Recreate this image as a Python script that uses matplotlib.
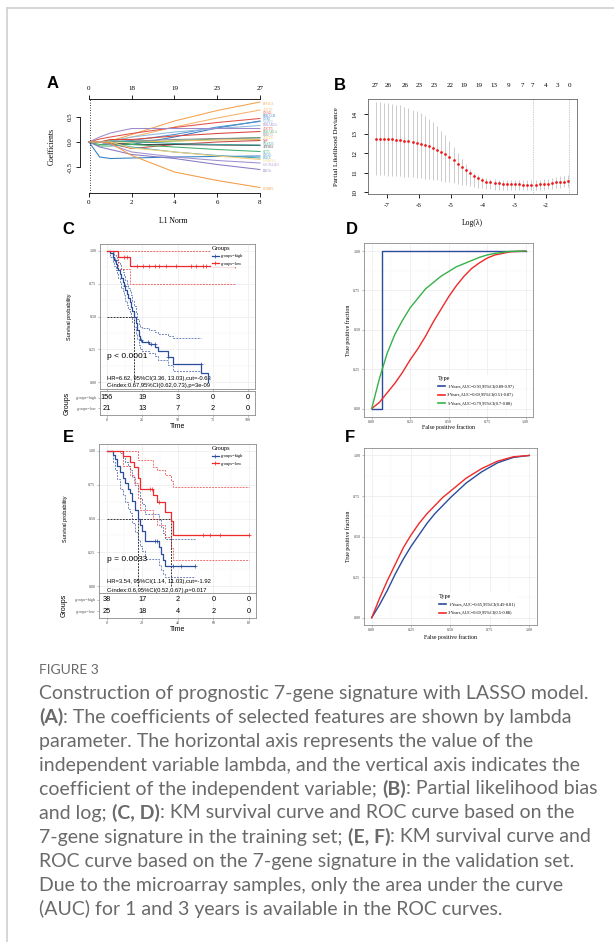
import matplotlib
matplotlib.use("Agg")
import matplotlib.pyplot as plt
from matplotlib.lines import Line2D
import numpy as np

W, H = 614, 942
SERIF = "Liberation Serif"
SANS = "Liberation Sans"
CAP = "Lato"

# ---------------- data ----------------
# A: lasso coefficient paths (values at each L1 norm knot)
A_l1 = [0, 0.5, 1, 2, 4, 6, 8]
A_genes = ["PPP1CA", "ADCY1", "GNAI1", "PRKACB", "GNB1", "VAMP2", "PRKAR2A", "ADCY5",
           "PRKAR1A", "PRKCG", "ADCY8", "NSF", "ATP2B2", "SNAP25", "SYT5", "GNG3",
           "PRKX", "CAMK2A", "CACNA2D1", "EXOA", "STXBP1"]
A_coef = [
    [0, 0, 0.02, 0.15, 0.42, 0.63, 0.80],
    [0, 0, 0, 0.10, 0.30, 0.48, 0.64],
    [0, 0.06, 0.10, 0.17, 0.29, 0.39, 0.47],
    [0, 0, -0.05, -0.05, 0.10, 0.28, 0.42],
    [0, 0, 0, 0.03, 0.15, 0.30, 0.41],
    [0, 0, 0.02, 0.10, 0.20, 0.27, 0.33],
    [0, 0.10, 0.18, 0.27, 0.27, 0.27, 0.27],
    [0, 0, 0.05, 0.05, 0.12, 0.17, 0.21],
    [0, -0.05, -0.05, -0.02, 0.02, 0.06, 0.09],
    [0, 0, 0, 0.02, 0.05, 0.07, 0.08],
    [0, 0, 0, 0, 0.02, 0.04, 0.05],
    [0, 0, -0.03, -0.13, -0.05, 0.00, 0.03],
    [0, 0, -0.02, -0.05, -0.05, -0.06, -0.07],
    [0, 0, 0.02, 0.01, -0.03, -0.05, -0.06],
    [0, -0.08, -0.08, -0.05, -0.10, -0.15, -0.19],
    [0, -0.30, -0.33, -0.32, -0.30, -0.29, -0.28],
    [0, 0, -0.05, -0.10, -0.20, -0.27, -0.32],
    [0, 0, 0, -0.12, -0.20, -0.28, -0.35],
    [0, 0, -0.05, -0.20, -0.30, -0.37, -0.42],
    [0, -0.10, -0.15, -0.25, -0.33, -0.45, -0.55],
    [0, 0, -0.02, -0.27, -0.60, -0.77, -0.91],
]
A_colors = ["#F5A04A", "#F7B267", "#E0524A", "#3A78C3", "#4F93D1", "#8FB9DE", "#9C89CC",
            "#D9443C", "#4DAA6A", "#8D8D8D", "#E8C25A", "#C84A4A", "#4A4A4A", "#3C9D96",
            "#3FAF6B", "#2F7FC1", "#48A6B8", "#F2CF7A", "#A18FD0", "#8A78C4", "#F29B45"]
A_ticks = [0, 2, 4, 6, 8]
A_top = ["0", "18", "19", "23", "27"]

# B: cross-validated partial likelihood deviance
B_loglam = np.linspace(-7.35, -1.30, 48)
B_mean = [12.74, 12.73, 12.72, 12.71, 12.70, 12.68, 12.66, 12.63, 12.60, 12.56, 12.52, 12.47,
          12.41, 12.34, 12.26, 12.17, 12.06, 11.93, 11.79, 11.63, 11.46, 11.29, 11.12, 10.96,
          10.82, 10.70, 10.61, 10.54, 10.49, 10.46, 10.44, 10.42, 10.41, 10.40, 10.39, 10.39,
          10.38, 10.38, 10.38, 10.38, 10.39, 10.41, 10.43, 10.46, 10.49, 10.52, 10.54, 10.56]
B_upper = [14.62, 14.60, 14.58, 14.55, 14.52, 14.48, 14.44, 14.38, 14.31, 14.23, 14.14, 14.03,
           13.90, 13.75, 13.58, 13.38, 13.15, 12.90, 12.62, 12.32, 12.01, 11.70, 11.42, 11.18,
           10.99, 10.86, 10.77, 10.71, 10.67, 10.65, 10.63, 10.62, 10.61, 10.60, 10.60, 10.60,
           10.60, 10.60, 10.60, 10.61, 10.63, 10.66, 10.69, 10.73, 10.77, 10.80, 10.83, 10.86]
B_lower = [10.87, 10.86, 10.85, 10.84, 10.83, 10.82, 10.80, 10.79, 10.77, 10.75, 10.73, 10.71,
           10.69, 10.66, 10.63, 10.60, 10.57, 10.53, 10.50, 10.46, 10.42, 10.38, 10.34, 10.30,
           10.26, 10.23, 10.20, 10.17, 10.15, 10.13, 10.12, 10.11, 10.10, 10.10, 10.10, 10.09,
           10.09, 10.09, 10.09, 10.10, 10.11, 10.13, 10.15, 10.17, 10.20, 10.23, 10.26, 10.28]
B_nz_pos = [-7.37, -6.96, -6.43, -5.99, -5.52, -5.02, -4.58, -4.11, -3.64, -3.17, -2.76,
            -2.42, -2.00, -1.66, -1.28]
B_nz_lab = ["27", "26", "26", "23", "23", "22", "19", "19", "13", "9", "7", "7", "4", "3", "0"]
B_lam_lines = [-2.41, -1.28]

# C: KM training set
C_high_t = [0, 2, 4, 5, 6, 7, 8, 9, 10, 11, 12, 13, 14, 15, 16, 17, 18, 19.4, 20.5, 21.5,
            22.5, 23.5, 25, 30, 34, 36, 43, 47, 67, 71.5]
C_high_s = [1.0, 0.98, 0.95, 0.93, 0.90, 0.87, 0.85, 0.82, 0.79, 0.76, 0.73, 0.70, 0.67, 0.64,
            0.61, 0.57, 0.54, 0.50, 0.45, 0.40, 0.35, 0.32, 0.31, 0.29, 0.27, 0.24, 0.19, 0.14,
            0.07, 0.0]
C_high_up = [1.0, 1.0, 0.99, 0.97, 0.95, 0.93, 0.91, 0.89, 0.86, 0.84, 0.81, 0.78, 0.75, 0.72,
             0.69, 0.66, 0.62, 0.58, 0.53, 0.48, 0.44, 0.42, 0.41, 0.40, 0.38, 0.37, 0.35, 0.34,
             0.34]
C_high_lo = [1.0, 0.95, 0.91, 0.88, 0.85, 0.82, 0.79, 0.76, 0.72, 0.69, 0.66, 0.62, 0.59, 0.56,
             0.53, 0.49, 0.46, 0.42, 0.37, 0.33, 0.28, 0.25, 0.24, 0.22, 0.20, 0.17, 0.13, 0.09,
             0.09]
C_high_cens = [5.5, 12.5, 24.2, 28.9, 31.3, 33.7, 43.2, 66.9]
C_low_t = [0, 8, 16, 90.5]
C_low_s = [1.0, 0.95, 0.88, 0.88]
C_low_up = [1.0, 1.0, 1.0, 1.0]
C_low_lo = [1.0, 0.86, 0.75, 0.75]
C_low_cens = [12.3, 14.0, 21.0, 25.4, 30.1, 33.7, 37.2, 42.0, 49.1, 59.7, 63.3, 68.0, 70.4, 90.5]
C_medians = [19.4]
C_risk_t = [0, 25, 50, 75, 100]
C_risk_high = [156, 19, 3, 0, 0]
C_risk_low = [21, 13, 7, 2, 0]

# E: KM validation set
E_high_t = [0, 3.5, 4.5, 6, 7.5, 9, 10.3, 12, 13, 14.5, 15.8, 17.4, 18.5, 19.6, 21.5, 29.5,
            30.5, 31.5, 32.5, 49.6]
E_high_s = [1.0, 0.97, 0.94, 0.89, 0.84, 0.80, 0.76, 0.72, 0.69, 0.63, 0.56, 0.50, 0.45, 0.41,
            0.335, 0.29, 0.24, 0.19, 0.15, 0.15]
E_high_up = [1.0, 1.0, 1.0, 1.0, 0.98, 0.95, 0.92, 0.89, 0.86, 0.81, 0.75, 0.70, 0.65, 0.61,
             0.53, 0.49, 0.44, 0.39, 0.35, 0.35]
E_high_lo = [1.0, 0.92, 0.86, 0.79, 0.72, 0.67, 0.62, 0.57, 0.54, 0.47, 0.40, 0.34, 0.30, 0.26,
             0.20, 0.16, 0.12, 0.09, 0.065, 0.065]
E_high_cens = [27.1, 28.4, 37.5, 42.0, 49.6]
E_low_t = [0, 9.3, 13, 15.5, 17.4, 18.5, 26.2, 28.5, 32.8, 36.2, 37.5, 80]
E_low_s = [1.0, 0.96, 0.92, 0.88, 0.80, 0.72, 0.67, 0.62, 0.55, 0.48, 0.38, 0.38]
E_low_up = [1.0, 1.0, 1.0, 1.0, 0.93, 0.93, 0.88, 0.86, 0.82, 0.78, 0.73, 0.73]
E_low_lo = [1.0, 0.89, 0.82, 0.76, 0.65, 0.56, 0.50, 0.45, 0.36, 0.28, 0.19, 0.19]
E_low_cens = [24.3, 25.3, 29.5, 54.4, 58.1, 63.7, 80]
E_medians = [17.4, 36.2]
E_risk_t = [0, 20, 40, 60, 80]
E_risk_high = [38, 17, 2, 0, 0]
E_risk_low = [25, 18, 4, 2, 0]

# D / F: time-dependent ROC
D_fpr_1y = [0, 0.069, 0.069, 1.0]
D_tpr_1y = [0, 0, 1.0, 1.0]
D_fpr = [0, 0.05, 0.1, 0.15, 0.2, 0.25, 0.3, 0.35, 0.4, 0.45, 0.5, 0.55, 0.6, 0.65, 0.7,
         0.75, 0.8, 0.9, 1.0]
D_tpr_3y = [0, 0.04, 0.10, 0.16, 0.23, 0.31, 0.38, 0.46, 0.55, 0.63, 0.71, 0.78, 0.84, 0.89,
            0.925, 0.955, 0.975, 0.995, 1.0]
D_tpr_5y = [0, 0.19, 0.35, 0.47, 0.56, 0.64, 0.70, 0.76, 0.80, 0.84, 0.87, 0.90, 0.92, 0.94,
            0.96, 0.975, 0.985, 0.998, 1.0]
D_labels = ["1-Years,AUC=0.93,95%CI(0.89-0.97)", "3-Years,AUC=0.69,95%CI(0.51-0.87)",
            "5-Years,AUC=0.79,95%CI(0.7-0.88)"]
F_fpr = [0, 0.05, 0.1, 0.15, 0.2, 0.25, 0.3, 0.35, 0.4, 0.45, 0.5, 0.6, 0.7, 0.8, 0.9, 1.0]
F_tpr_1y = [0, 0.08, 0.17, 0.27, 0.36, 0.44, 0.51, 0.58, 0.64, 0.69, 0.74, 0.83, 0.90, 0.955,
            0.988, 1.0]
F_tpr_3y = [0, 0.12, 0.23, 0.33, 0.43, 0.51, 0.58, 0.64, 0.69, 0.74, 0.78, 0.86, 0.92, 0.965,
            0.992, 1.0]
F_labels = ["1-Years,AUC=0.65,95%CI(0.49-0.81)", "3-Years,AUC=0.69,95%CI(0.5-0.88)"]

BLUE = "#2B4C9B"
RED = "#EE2A2A"
GREEN = "#36B14A"
GRIDC = "#EBEBEB"
BORDER = "#8A8A8A"

fig = plt.figure(figsize=(W / 100, H / 100), dpi=100)
fig.patch.set_facecolor("white")


def px_axes(x0, y0, x1, y1):
    return fig.add_axes([x0 / W, 1 - y1 / H, (x1 - x0) / W, (y1 - y0) / H])


def letter(x, y, s):
    fig.text(x / W, 1 - y / H, s, fontsize=12, weight="bold", family=SANS,
             ha="center", va="center")


# page frame
fig.add_artist(Line2D([7 / W, 7 / W], [0, 1 - 8 / H], transform=fig.transFigure,
                      color="#d0d0d0", lw=1.2))
fig.add_artist(Line2D([7 / W, 1], [1 - 8 / H, 1 - 8 / H], transform=fig.transFigure,
                      color="#d0d0d0", lw=1.2))

# ---------------- A ----------------
letter(53, 83, "A")
axA = px_axes(80, 99, 267, 193)
ends = np.array([c[-1] for c in A_coef])
order = np.argsort(ends)
lab_y = ends.copy()
gap = 0.062
for k in range(1, len(order)):
    lab_y[order[k]] = max(lab_y[order[k]], lab_y[order[k - 1]] + gap)
lab_y -= (lab_y - ends).mean() * 0.6
for k in range(1, len(order)):
    lab_y[order[k]] = max(lab_y[order[k]], lab_y[order[k - 1]] + gap)
for coefs, col, name, ly in zip(A_coef, A_colors, A_genes, lab_y):
    axA.plot(A_l1, coefs, color=col, lw=0.75)
    axA.text(8.15, ly, name, color=col, fontsize=2.3, family=SERIF,
             va="center", ha="left", clip_on=False)
axA.axvline(0.05, color="black", ls=(0, (1, 2)), lw=0.6)
axA.set_xlim(-0.42, 8.33)
axA.set_ylim(-1.02, 0.86)
axA.patch.set_alpha(0)
for s in ["right", "top"]:
    axA.spines[s].set_visible(False)
axA.spines["left"].set_bounds(-0.5, 0.5)
axA.spines["bottom"].set_bounds(0, 8)
for s in ["left", "bottom"]:
    axA.spines[s].set_linewidth(0.6)
axA.set_xticks(A_ticks, [str(v) for v in A_ticks], fontsize=5, family=SERIF)
axA.set_yticks([-0.5, 0, 0.5], ["-0.5", "0.0", "0.5"], fontsize=5, family=SERIF,
               rotation=90, va="center")
axA.tick_params(length=2.8, width=0.6, pad=2.5)
axA.set_xlabel("L1 Norm", fontsize=5.5, family=SERIF, va="center")
axA.xaxis.set_label_coords(0.5, -(221 - 193) / 94)
axA.set_ylabel("Coefficients", fontsize=5.5, family=SERIF, va="center")
axA.yaxis.set_label_coords((52 - 80) / 187, 0.5)
axAt = axA.twiny()
axAt.set_xlim(axA.get_xlim())
for s in ["left", "right", "bottom"]:
    axAt.spines[s].set_visible(False)
axAt.spines["top"].set_bounds(0, 8)
axAt.spines["top"].set_linewidth(0.6)
axAt.set_xticks(A_ticks, A_top, fontsize=5, family=SERIF)
axAt.tick_params(length=2.8, width=0.6, pad=3)

# ---------------- B ----------------
letter(340, 85, "B")
axB = px_axes(368, 99, 577, 194)
mean = np.array(B_mean)
axB.errorbar(B_loglam, mean, yerr=[mean - np.array(B_lower), np.array(B_upper) - mean],
             fmt="o", color="#EE1C1C", ms=2.0, mew=0, ecolor="#B0B0B0", elinewidth=0.45,
             capsize=1.0, capthick=0.45, zorder=3)
for v in B_lam_lines:
    axB.axvline(v, color="#9A9A9A", ls=(0, (1, 1.5)), lw=0.5)
axB.set_xlim(-7.59, -1.03)
axB.set_ylim(9.9, 14.77)
for s in axB.spines.values():
    s.set_color("#666666")
    s.set_linewidth(0.6)
axB.set_xticks([-7, -6, -5, -4, -3, -2], ["-7", "-6", "-5", "-4", "-3", "-2"], fontsize=5,
               family=SERIF)
axB.set_yticks([10, 11, 12, 13, 14], ["10", "11", "12", "13", "14"], fontsize=5,
               family=SERIF, rotation=90, va="center")
axB.tick_params(axis="x", length=2.8, width=0.6, pad=4)
axB.tick_params(axis="y", length=2.8, width=0.6, pad=5)
axB.set_xlabel("Log(λ)", fontsize=5.5, family=SERIF, va="center")
axB.xaxis.set_label_coords(0.5, -(223 - 194) / 95)
axB.set_ylabel("Partial Likelihood Deviance", fontsize=5, family=SERIF, va="center")
axB.yaxis.set_label_coords((337 - 368) / 209, 0.5)
axBt = axB.twiny()
axBt.set_xlim(axB.get_xlim())
axBt.set_xticks(B_nz_pos, B_nz_lab, fontsize=5, family=SERIF)
axBt.tick_params(length=0, pad=8)
for s in axBt.spines.values():
    s.set_visible(False)


# ---------------- KM panels ----------------
def gg_style(ax, xlim, ylim, xt, yt, xlab=True, ylab=True, grid_minor=True):
    ax.set_xlim(xlim)
    ax.set_ylim(ylim)
    ax.set_axisbelow(True)
    ax.set_xticks(xt, [str(v) for v in xt] if xlab else [""] * len(xt), fontsize=3,
                  family=SERIF, color="#444444")
    if yt is not None:
        ax.set_yticks(yt, ["%.2f" % v for v in yt] if ylab else [""] * len(yt), fontsize=3,
                      family=SERIF, color="#444444")
    if grid_minor:
        ax.set_xticks([(a + b) / 2 for a, b in zip(xt[:-1], xt[1:])], minor=True)
        if yt is not None:
            ax.set_yticks([(a + b) / 2 for a, b in zip(yt[:-1], yt[1:])], minor=True)
        ax.grid(which="minor", color="#F4F4F4", lw=0.35)
    ax.grid(which="major", color=GRIDC, lw=0.5)
    ax.tick_params(which="major", length=1.5, width=0.4, color=BORDER, pad=1)
    ax.tick_params(which="minor", length=0)
    for s in ax.spines.values():
        s.set_color(BORDER)
        s.set_linewidth(0.6)


def step_at(t, s, q):
    idx = np.searchsorted(np.array(t), np.array(q), side="right") - 1
    return np.array(s)[idx]


def km_panel(box, tbox, xlim, xt, groups, medians, ptxt, hrtxt, citxt, txt_y, risk_t,
             risk, ylab_x, time_y):
    x0, y0, x1, y1 = box
    ax = px_axes(*box)
    gg_style(ax, xlim, (-0.05, 1.05), xt, [0, 0.25, 0.5, 0.75, 1.0], xlab=False)
    for t, s, up, lo, cens, col in groups:
        ax.step(t, s, where="post", color=col, lw=0.9, zorder=4)
        ax.step(t[:len(up)], up, where="post", color=col, lw=0.55, ls=(0, (2.5, 1.5)),
                alpha=0.85, zorder=3)
        ax.step(t[:len(lo)], lo, where="post", color=col, lw=0.55, ls=(0, (2.5, 1.5)),
                alpha=0.85, zorder=3)
        ax.plot(cens, step_at(t, s, cens), ls="none", marker="+", ms=2.4, mew=0.5,
                color=col, zorder=5)
    ax.plot([0, max(medians)], [0.5, 0.5], color="black", ls=(0, (2.5, 1.5)), lw=0.55)
    for m in medians:
        ax.plot([m, m], [0, 0.5], color="black", ls=(0, (2.5, 1.5)), lw=0.55)
    ax.text(0, txt_y[0], ptxt, fontsize=6, family=SANS, va="center")
    ax.text(0, txt_y[1], hrtxt, fontsize=4.2, family=SANS, va="center")
    ax.text(0, txt_y[2], citxt, fontsize=4.2, family=SANS, va="center")
    ax.set_ylabel("Survival probability", fontsize=4, family=SANS, va="center")
    ax.yaxis.set_label_coords((ylab_x - x0) / (x1 - x0), 0.5)
    handles = [Line2D([], [], color=BLUE, lw=0.9, marker="+", ms=2.4, mew=0.5),
               Line2D([], [], color=RED, lw=0.9, marker="+", ms=2.4, mew=0.5)]
    leg = ax.legend(handles, ["groups=high", "groups=low"], title="Groups", loc="upper left",
                    bbox_to_anchor=((211 - x0) / (x1 - x0), 0.995), fontsize=3.2,
                    title_fontsize=4.5, frameon=True, framealpha=1, edgecolor="none",
                    facecolor="white", borderpad=0.2, labelspacing=0.8, handlelength=1.6,
                    handletextpad=0.4, alignment="left", borderaxespad=0)
    leg.get_title().set_family(SERIF)
    for tx in leg.get_texts():
        tx.set_family(SERIF)

    tx0, ty0, tx1, ty1 = tbox
    tab = px_axes(*tbox)
    gg_style(tab, xlim, None, xt, None, grid_minor=False)
    tab.grid(which="major", axis="y", visible=False)
    tab.set_ylim(-0.63, 1.63)
    tab.set_yticks([1, 0], ["groups=high", "groups=low"], fontsize=3, family=SERIF,
                   color="#555555")
    for row, counts in zip([1, 0], risk):
        for t, n in zip(risk_t, counts):
            tab.text(t, row, str(n), fontsize=5.3, family=SANS, ha="center", va="center")
    tab.set_xlabel("Time", fontsize=5, family=SANS, va="center")
    tab.xaxis.set_label_coords(0.5, -(time_y - ty1) / (ty1 - ty0))
    tab.set_ylabel("Groups", fontsize=5, family=SANS, va="center")
    tab.yaxis.set_label_coords((ylab_x - 2 - tx0) / (tx1 - tx0), 0.5)


letter(68, 230, "C")
km_panel((100, 244, 255, 389), (100, 391, 255, 415), (-5, 105), [0, 25, 50, 75, 100],
         [(C_high_t, C_high_s, C_high_up, C_high_lo, C_high_cens, BLUE),
          (C_low_t, C_low_s, C_low_up, C_low_lo, C_low_cens, RED)],
         C_medians, "p < 0.0001", "HR=6.62, 95%CI(3.36, 13.03),cut=-0.63",
         "C-index:0.67,95%CI(0.62,0.73),p=3e-09", (0.2, 0.03, -0.02),
         C_risk_t, [C_risk_high, C_risk_low], 69, 426)

letter(68, 437, "E")
km_panel((99, 444, 256, 593), (99, 593, 256, 618), (-4.3, 83.9), [0, 20, 40, 60, 80],
         [(E_high_t, E_high_s, E_high_up, E_high_lo, E_high_cens, BLUE),
          (E_low_t, E_low_s, E_low_up, E_low_lo, E_low_cens, RED)],
         E_medians, "p = 0.0033", "HR=3.54, 95%CI(1.14, 11.03),cut=-1.92",
         "C-index:0.6,95%CI(0.52,0.67),p=0.017", (0.2, 0.037, -0.03),
         E_risk_t, [E_risk_high, E_risk_low], 66, 630)


# ---------------- ROC panels ----------------
def roc_panel(box, curves, labels, leg_xy, xlab_y, ylab_x, xlim, ylim):
    x0, y0, x1, y1 = box
    ax = px_axes(*box)
    gg_style(ax, xlim, ylim, [0, 0.25, 0.5, 0.75, 1.0], [0, 0.25, 0.5, 0.75, 1.0])
    ax.set_xticks([0, 0.25, 0.5, 0.75, 1.0], ["0.00", "0.25", "0.50", "0.75", "1.00"],
                  fontsize=3, family=SERIF, color="#444444")
    handles = []
    for fpr, tpr, col in curves:
        ax.plot(fpr, tpr, color=col, lw=1.0)
        handles.append(Line2D([], [], color=col, lw=1.2))
    leg = ax.legend(handles, labels, title="Type", loc="upper left", bbox_to_anchor=leg_xy,
                    fontsize=3.2, title_fontsize=4.5, frameon=True, framealpha=1,
                    edgecolor="none", facecolor="white", borderpad=0.2, labelspacing=0.9,
                    handlelength=1.6, handletextpad=0.5, alignment="left", borderaxespad=0)
    leg.get_title().set_family(SERIF)
    for tx in leg.get_texts():
        tx.set_family(SERIF)
    ax.set_xlabel("False positive fraction", fontsize=4.2, family=SERIF, va="center")
    ax.xaxis.set_label_coords(0.5, -(xlab_y - y1) / (y1 - y0))
    ax.set_ylabel("True positive fraction", fontsize=4.2, family=SERIF, va="center")
    ax.yaxis.set_label_coords((ylab_x - x0) / (x1 - x0), 0.5)


letter(352, 230, "D")
roc_panel((364, 243, 533, 417),
          [(D_fpr_1y, D_tpr_1y, BLUE), (D_fpr, D_tpr_3y, RED), (D_fpr, D_tpr_5y, GREEN)],
          D_labels, ((437 - 364) / 169, 1 - (375 - 243) / 174), 427, 348,
          (-0.05, 1.048), (-0.053, 1.051))

letter(350, 437, "F")
roc_panel((364, 448, 537, 625),
          [(F_fpr, F_tpr_1y, BLUE), (F_fpr, F_tpr_3y, RED)],
          F_labels, ((438 - 364) / 173, 1 - (593 - 448) / 177), 637, 348,
          (-0.049, 1.05), (-0.045, 1.046))

# ---------------- caption ----------------
CAP_W = "normal"
CAP_C = "#6a6a6a"
fig.text(39 / W, 1 - 670 / H, "FIGURE 3", fontsize=10, family=CAP, color=CAP_C,
         va="center", ha="left", weight=CAP_W)

caption = [
    [("Construction of prognostic 7-gene signature with LASSO model.", False)],
    [("(A)", True), (": The coefficients of selected features are shown by lambda", False)],
    [("parameter. The horizontal axis represents the value of the", False)],
    [("independent variable lambda, and the vertical axis indicates the", False)],
    [("coefficient of the independent variable; ", False), ("(B)", True),
     (": Partial likelihood bias", False)],
    [("and log; ", False), ("(C, D)", True),
     (": KM survival curve and ROC curve based on the", False)],
    [("7-gene signature in the training set; ", False), ("(E, F)", True),
     (": KM survival curve and", False)],
    [("ROC curve based on the 7-gene signature in the validation set.", False)],
    [("Due to the microarray samples, only the area under the curve", False)],
    [("(AUC) for 1 and 3 years is available in the ROC curves.", False)],
]

renderer = fig.canvas.get_renderer()


def text_width(s, size, bold):
    wt = "bold" if bold else CAP_W
    probe = fig.text(0, 0, s + "|", fontsize=size, family=CAP, weight=wt)
    bar = fig.text(0, 0, "|", fontsize=size, family=CAP, weight=wt)
    w = probe.get_window_extent(renderer).width - bar.get_window_extent(renderer).width
    probe.remove()
    bar.remove()
    return w


ref_w = sum(text_width(s, 12, b) for s, b in caption[4])
cap_size = 12 * 555 / ref_w

for i, line in enumerate(caption):
    x = 39
    y = 693 + 24 * i
    for s, b in line:
        fig.text(x / W, 1 - y / H, s, fontsize=cap_size, family=CAP,
                 weight="bold" if b else CAP_W, color=CAP_C, va="center", ha="left")
        x += text_width(s, cap_size, b)

fig.savefig("out.png", dpi=100)
